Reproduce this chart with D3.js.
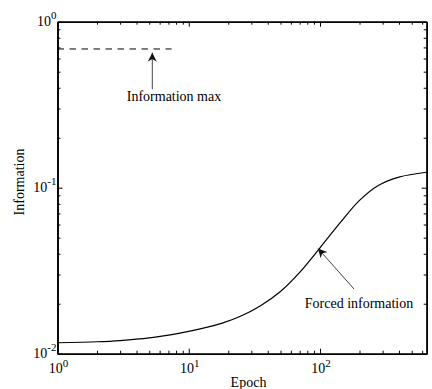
<!DOCTYPE html>
<html>
<head>
<meta charset="utf-8">
<script src="https://cdn.jsdelivr.net/npm/d3@7"></script>
<style>
  body { margin: 0; background: #fff; }
  svg text { font-family: "Liberation Serif", "Times New Roman", serif; fill: #000; }
</style>
</head>
<body>
<figure id="chart" style="margin:0"></figure>
<script>
// data
var epochs = [1, 2, 3, 5, 8, 12, 18, 25, 35, 50, 70, 100, 140, 200, 280, 400, 650];
var forcedInfo = [0.01164, 0.0118, 0.0120, 0.01245, 0.01318, 0.01406, 0.01528, 0.01687, 0.01941,
                  0.02371, 0.0309, 0.04345, 0.0605, 0.0839, 0.1035, 0.1159, 0.1239];
var infoMax = 0.685;
var infoMaxEpochs = [1, 7.4];
var xMajor = [1, 10, 100];
var yMajor = [0.01, 0.1, 1];
var xLabels = ["0", "1", "2"];
var yLabels = ["-2", "-1", "0"];

let dimensions = {
    width: 432,
    height: 389,
    margin: { top: 21.7, right: 5.3, bottom: 35.3, left: 57.5 },
};
dimensions.boundedWidth = dimensions.width - dimensions.margin.left - dimensions.margin.right;
dimensions.boundedHeight = dimensions.height - dimensions.margin.top - dimensions.margin.bottom;

var svg = d3.select("figure#chart")
    .append("svg")
    .attr("width", dimensions.width)
    .attr("height", dimensions.height)
    .append("g")
    .attr("transform", `translate(${dimensions.margin.left}, ${dimensions.margin.top})`);

var xScale = d3.scaleLog().domain([1, 650]).range([0, dimensions.boundedWidth]);
var yScale = d3.scaleLog().domain([0.01, 1]).range([dimensions.boundedHeight, 0]);

// minor tick values
var xMinor = [];
[1, 10, 100].forEach(function(b) { for (var k = 2; k <= 9; k++) if (b * k <= 650) xMinor.push(b * k); });
var yMinor = [];
[0.01, 0.1].forEach(function(b) { for (var k = 2; k <= 9; k++) yMinor.push(b * k); });

function drawAxis(axisFn, scale, vals, size, transform) {
    var g = svg.append("g")
        .attr("transform", transform)
        .call(axisFn(scale).tickValues(vals).tickSizeInner(-size).tickSizeOuter(0).tickFormat(""));
    g.selectAll("path").attr("stroke", "#000").attr("stroke-width", 1.6);
    g.selectAll("line").attr("stroke", "#000").attr("stroke-width", 1);
    return g;
}

var W = dimensions.boundedWidth, H = dimensions.boundedHeight;
drawAxis(d3.axisBottom, xScale, xMinor, 3, `translate(0,${H})`);
drawAxis(d3.axisBottom, xScale, xMajor, 5, `translate(0,${H})`);
drawAxis(d3.axisTop, xScale, xMinor, 3, `translate(0,0)`);
drawAxis(d3.axisTop, xScale, xMajor, 5, `translate(0,0)`);
drawAxis(d3.axisLeft, yScale, yMinor, 3, `translate(0,0)`);
drawAxis(d3.axisLeft, yScale, yMajor, 5, `translate(0,0)`);
drawAxis(d3.axisRight, yScale, yMinor, 3, `translate(${W},0)`);
drawAxis(d3.axisRight, yScale, yMajor, 5, `translate(${W},0)`);

// tick labels with superscripts
xMajor.forEach(function(v, i) {
    var t = svg.append("text")
        .attr("x", xScale(v) + 1)
        .attr("y", H + 19.5)
        .attr("text-anchor", "middle")
        .style("font-size", "14px");
    t.append("tspan").text("10");
    t.append("tspan").attr("dy", -6).style("font-size", "11px").text(xLabels[i]);
});
yMajor.forEach(function(v, i) {
    var t = svg.append("text")
        .attr("x", -1)
        .attr("y", yScale(v) + 4.5)
        .attr("text-anchor", "end")
        .style("font-size", "14px");
    t.append("tspan").text("10");
    t.append("tspan").attr("dy", -7).style("font-size", "11px").text(yLabels[i]);
});

// axis titles
svg.append("text")
    .attr("x", 191)
    .attr("y", H + 33)
    .attr("text-anchor", "middle")
    .style("font-size", "14px")
    .text("Epoch");
svg.append("text")
    .attr("transform", `translate(-34,${182 - dimensions.margin.top}) rotate(-90)`)
    .attr("text-anchor", "middle")
    .style("font-size", "14px")
    .text("Information");

// curve
var line = d3.line()
    .x(function(d, i) { return xScale(epochs[i]); })
    .y(function(d) { return yScale(d); })
    .curve(d3.curveCatmullRom.alpha(0.5));
svg.append("path")
    .datum(forcedInfo)
    .attr("d", line)
    .attr("fill", "none")
    .attr("stroke", "#000")
    .attr("stroke-width", 1.2);

// information max dashed line
svg.append("line")
    .attr("x1", xScale(infoMaxEpochs[0]))
    .attr("x2", xScale(infoMaxEpochs[1]))
    .attr("y1", yScale(infoMax))
    .attr("y2", yScale(infoMax))
    .attr("stroke", "#000")
    .attr("stroke-width", 1)
    .attr("stroke-dasharray", "6.5,5.5");

// arrowhead marker
svg.append("defs").append("marker")
    .attr("id", "head")
    .attr("viewBox", "0 0 10 10")
    .attr("refX", 10).attr("refY", 5)
    .attr("markerWidth", 9).attr("markerHeight", 9)
    .attr("markerUnits", "userSpaceOnUse")
    .attr("orient", "auto")
    .append("path")
    .attr("d", "M0,0 L10,5 L0,10 L3,5 Z")
    .attr("fill", "#111");

// annotation: information max
svg.append("line")
    .attr("x1", 152.3 - dimensions.margin.left).attr("y1", 89.3 - dimensions.margin.top)
    .attr("x2", 152.3 - dimensions.margin.left).attr("y2", 52.7 - dimensions.margin.top)
    .attr("stroke", "#444").attr("stroke-width", 1)
    .attr("marker-end", "url(#head)");
svg.append("text")
    .attr("x", 174 - dimensions.margin.left)
    .attr("y", 101.5 - dimensions.margin.top)
    .attr("text-anchor", "middle")
    .style("font-size", "14px")
    .text("Information max");

// annotation: forced information
svg.append("line")
    .attr("x1", 354 - dimensions.margin.left).attr("y1", 289 - dimensions.margin.top)
    .attr("x2", 318 - dimensions.margin.left).attr("y2", 248.5 - dimensions.margin.top)
    .attr("stroke", "#444").attr("stroke-width", 1)
    .attr("marker-end", "url(#head)");
svg.append("text")
    .attr("x", 359 - dimensions.margin.left)
    .attr("y", 308 - dimensions.margin.top)
    .attr("text-anchor", "middle")
    .style("font-size", "14px")
    .text("Forced information");
</script>
</body>
</html>
